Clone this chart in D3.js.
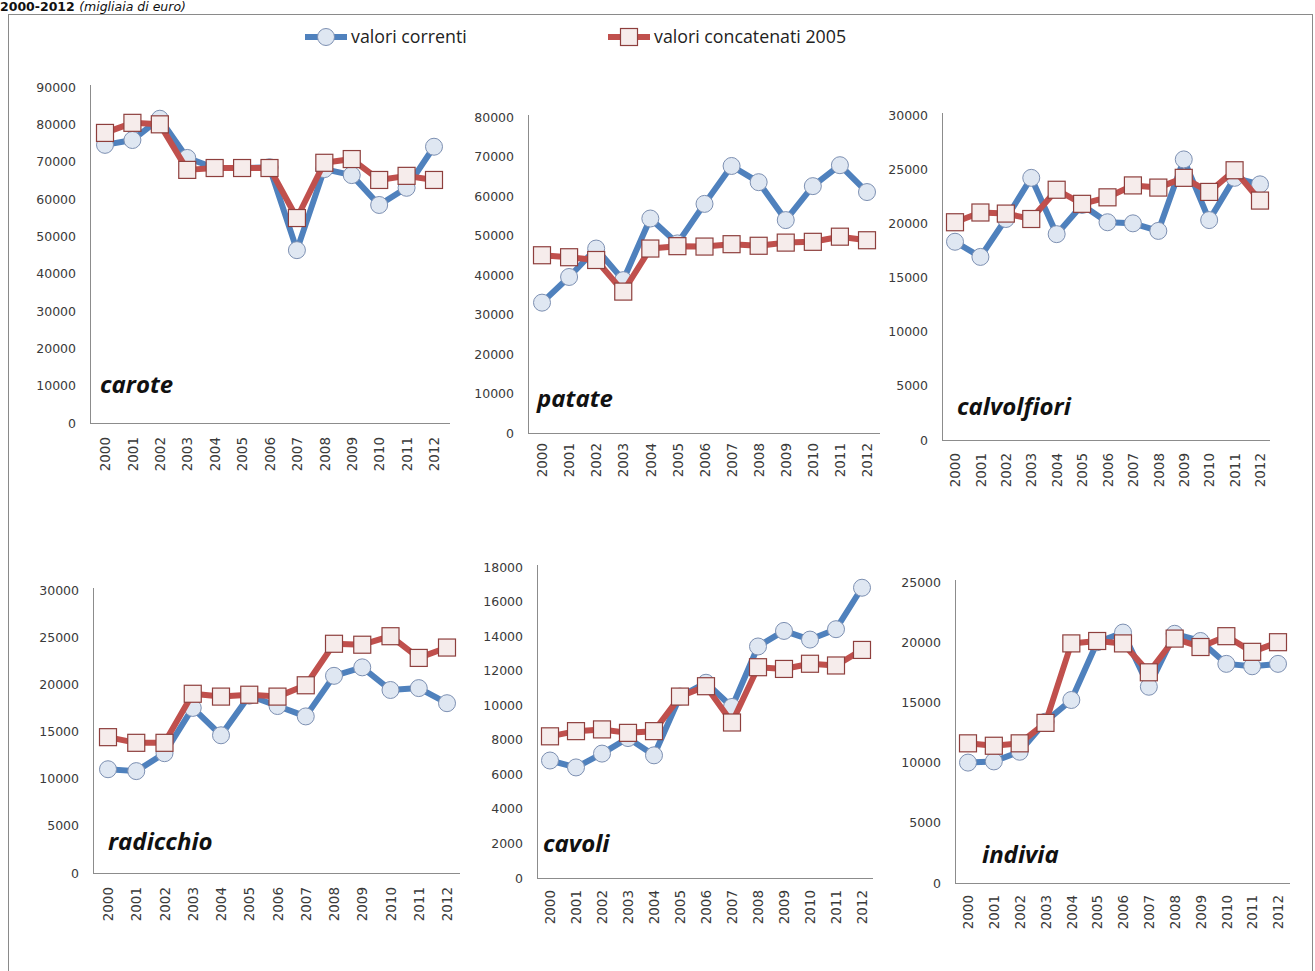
<!DOCTYPE html>
<html>
<head>
<meta charset="utf-8">
<script src="https://cdn.jsdelivr.net/npm/d3@7"></script>
<style>
    body { margin: 0; background: #fff; }
</style>
</head>
<body>
<script>
// years on the x axis of every panel
const years = ['2000', '2001', '2002', '2003', '2004', '2005', '2006', '2007', '2008', '2009', '2010', '2011', '2012'];

const seriesNames = ['valori correnti', 'valori concatenati 2005'];
const productNames = ['carote', 'patate', 'calvolfiori', 'radicchio', 'cavoli', 'indivia'];

// valori correnti (migliaia di euro)
const caroteCorrenti = [74500, 75800, 81500, 71000, 68300, 68300, 68500, 46300, 68000, 66400, 58400, 63000, 74000];
const patateCorrenti = [33000, 39500, 46700, 38700, 54300, 48000, 58000, 67600, 63500, 53900, 62500, 67800, 61000];
const calvolfioriCorrenti = [18300, 16900, 20400, 24200, 19000, 21700, 20100, 20000, 19300, 25900, 20300, 24200, 23600];
const radicchioCorrenti = [11000, 10800, 12700, 17500, 14600, 18800, 17700, 16600, 20900, 21800, 19400, 19600, 18000];
const cavoliCorrenti = [6800, 6400, 7200, 8100, 7100, 10500, 11300, 9900, 13400, 14300, 13800, 14400, 16800];
const indiviaCorrenti = [10000, 10100, 10900, 13400, 15200, 20000, 20800, 16300, 20700, 20100, 18200, 18000, 18200];

// valori concatenati 2005
const caroteConcatenati = [77700, 80400, 80000, 67800, 68300, 68300, 68300, 54900, 69700, 70700, 65100, 66200, 65100];
const patateConcatenati = [45000, 44500, 43800, 35800, 46700, 47300, 47200, 47800, 47400, 48200, 48400, 49700, 48800];
const calvolfioriConcatenati = [20100, 21000, 20900, 20400, 23100, 21800, 22400, 23500, 23300, 24200, 22900, 24900, 22100];
const radicchioConcatenati = [14400, 13800, 13800, 19000, 18700, 18900, 18700, 19900, 24300, 24200, 25100, 22800, 23900];
const cavoliConcatenati = [8200, 8500, 8600, 8400, 8500, 10500, 11100, 9000, 12200, 12100, 12400, 12300, 13200];
const indiviaConcatenati = [11600, 11400, 11600, 13300, 19900, 20100, 19900, 17500, 20300, 19600, 20500, 19200, 20000];

// y axis extent and tick step of each panel
const axisMax = [90000, 80000, 30000, 30000, 18000, 25000];
const axisStep = [10000, 10000, 5000, 5000, 2000, 5000];

const correnti = [caroteCorrenti, patateCorrenti, calvolfioriCorrenti, radicchioCorrenti, cavoliCorrenti, indiviaCorrenti];
const concatenati = [caroteConcatenati, patateConcatenati, calvolfioriConcatenati, radicchioConcatenati, cavoliConcatenati, indiviaConcatenati];

const svgWidth = 1315;
const svgHeight = 971;

// where each panel sits on the page
const layout = [
    {axisX: 90,  axisEnd: 450,  y0: 423, yTop: 87,  xFirst: 105, xLast: 434,  yearTop: 437, titleX: 100, titleY: 393},
    {axisX: 528, axisEnd: 880,  y0: 433, yTop: 117, xFirst: 542, xLast: 867,  yearTop: 443, titleX: 537, titleY: 407},
    {axisX: 942, axisEnd: 1270, y0: 440, yTop: 115, xFirst: 955, xLast: 1260, yearTop: 453, titleX: 957, titleY: 415},
    {axisX: 93,  axisEnd: 460,  y0: 873, yTop: 590, xFirst: 108, xLast: 447,  yearTop: 887, titleX: 108, titleY: 850},
    {axisX: 537, axisEnd: 873,  y0: 878, yTop: 567, xFirst: 550, xLast: 862,  yearTop: 890, titleX: 543, titleY: 852},
    {axisX: 955, axisEnd: 1290, y0: 883, yTop: 582, xFirst: 968, xLast: 1278, yearTop: 895, titleX: 982, titleY: 863}
];

const blue = '#4f81bd';
const red = '#c0504d';
const axisColor = '#8c8c8c';
const labelColor = '#3a3a3a';

window.onload = main;

function main() {
    const svg = d3.select('body').append('svg')
        .attr('width', svgWidth)
        .attr('height', svgHeight)
        .style('display', 'block');

    drawHeader(svg);
    drawLegend(svg);

    productNames.forEach((name, i) => drawPanel(svg, i));
}

function drawHeader(svg) {
    // caption squeezed above the frame
    const t = svg.append('text')
        .attr('x', 0)
        .attr('y', 11)
        .attr('font-family', 'Verdana, DejaVu Sans, sans-serif')
        .attr('font-size', 12.5)
        .attr('fill', '#111');
    t.append('tspan').attr('font-weight', 'bold').text('2000-2012 ');
    t.append('tspan').attr('font-style', 'italic').text('(migliaia di euro)');

    svg.append('rect')
        .attr('x', 8.5)
        .attr('y', 14.5)
        .attr('width', svgWidth - 11)
        .attr('height', svgHeight)
        .attr('fill', 'none')
        .attr('stroke', '#8a8a8a')
        .attr('stroke-width', 1);
}

function drawLegend(svg) {
    const items = [
        {x: 305, color: blue, marker: 'circle'},
        {x: 608, color: red, marker: 'square'}
    ];
    items.forEach((it, i) => {
        const g = svg.append('g');
        g.append('line')
            .attr('x1', it.x).attr('x2', it.x + 42)
            .attr('y1', 37).attr('y2', 37)
            .attr('stroke', it.color)
            .attr('stroke-width', 6);
        addMarker(g, it.marker, it.x + 21, 37);
        g.append('text')
            .attr('x', it.x + 46)
            .attr('y', 43)
            .attr('font-family', 'Open Sans, sans-serif')
            .attr('font-size', 17.8)
            .attr('fill', '#222')
            .text(seriesNames[i]);
    });
}

function addMarker(g, type, cx, cy) {
    if (type === 'circle') {
        g.append('circle')
            .attr('cx', cx).attr('cy', cy).attr('r', 8.5)
            .attr('fill', '#dfe7f2')
            .attr('stroke', '#7d90b2')
            .attr('stroke-width', 1);
    } else {
        g.append('rect')
            .attr('x', cx - 8.5).attr('y', cy - 8.5)
            .attr('width', 17).attr('height', 17)
            .attr('fill', '#f6eceb')
            .attr('stroke', '#8e3f3d')
            .attr('stroke-width', 1.2);
    }
}

function drawPanel(svg, i) {
    const box = layout[i];
    const g = svg.append('g');

    const scaleX = d3.scalePoint()
        .domain(years)
        .range([box.xFirst, box.xLast]);

    const scaleY = d3.scaleLinear()
        .domain([0, axisMax[i]])
        .range([box.y0, box.yTop]);

    // y axis: labels only, the line is drawn by hand
    const axisY = g.append('g')
        .attr('transform', `translate(${box.axisX - 14}, 0)`)
        .call(d3.axisLeft(scaleY)
            .tickValues(d3.range(0, axisMax[i] + 1, axisStep[i]))
            .tickSize(0)
            .tickPadding(0)
            .tickFormat(d3.format('d')));
    axisY.select('.domain').remove();
    axisY.selectAll('text')
        .attr('font-family', 'DejaVu Sans, Verdana, sans-serif')
        .attr('font-size', 12.5)
        .attr('fill', labelColor);

    // x axis: rotated year labels
    const axisX = g.append('g')
        .attr('transform', `translate(0, ${box.yearTop})`)
        .call(d3.axisBottom(scaleX).tickSize(0).tickPadding(0));
    axisX.select('.domain').remove();
    axisX.selectAll('text')
        .attr('font-family', 'DejaVu Sans, Verdana, sans-serif')
        .attr('font-size', 13.5)
        .attr('fill', labelColor)
        .attr('transform', 'rotate(-90)')
        .attr('text-anchor', 'end')
        .attr('dy', '0.35em')
        .attr('y', 0)
        .attr('x', 0);

    // axis lines
    g.append('line')
        .attr('x1', box.axisX + 0.5).attr('x2', box.axisX + 0.5)
        .attr('y1', box.yTop - 2).attr('y2', box.y0)
        .attr('stroke', axisColor);
    g.append('line')
        .attr('x1', box.axisX).attr('x2', box.axisEnd)
        .attr('y1', box.y0 + 0.5).attr('y2', box.y0 + 0.5)
        .attr('stroke', axisColor);

    const line = d3.line()
        .x((d, k) => scaleX(years[k]))
        .y(d => scaleY(d));

    const series = [
        {values: correnti[i], color: blue, marker: 'circle'},
        {values: concatenati[i], color: red, marker: 'square'}
    ];

    series.forEach(s => {
        g.append('path')
            .datum(s.values)
            .attr('fill', 'none')
            .attr('stroke', s.color)
            .attr('stroke-width', 6)
            .attr('stroke-linejoin', 'round')
            .attr('d', line);
        s.values.forEach((v, k) => addMarker(g, s.marker, scaleX(years[k]), scaleY(v)));
    });

    // product name written inside the plot
    g.append('text')
        .attr('x', box.titleX)
        .attr('y', box.titleY)
        .attr('font-family', 'Open Sans, sans-serif')
        .attr('font-weight', 'bold')
        .attr('font-style', 'italic')
        .attr('font-size', 24)
        .attr('fill', '#111')
        .text(productNames[i]);
}
</script>
</body>
</html>
